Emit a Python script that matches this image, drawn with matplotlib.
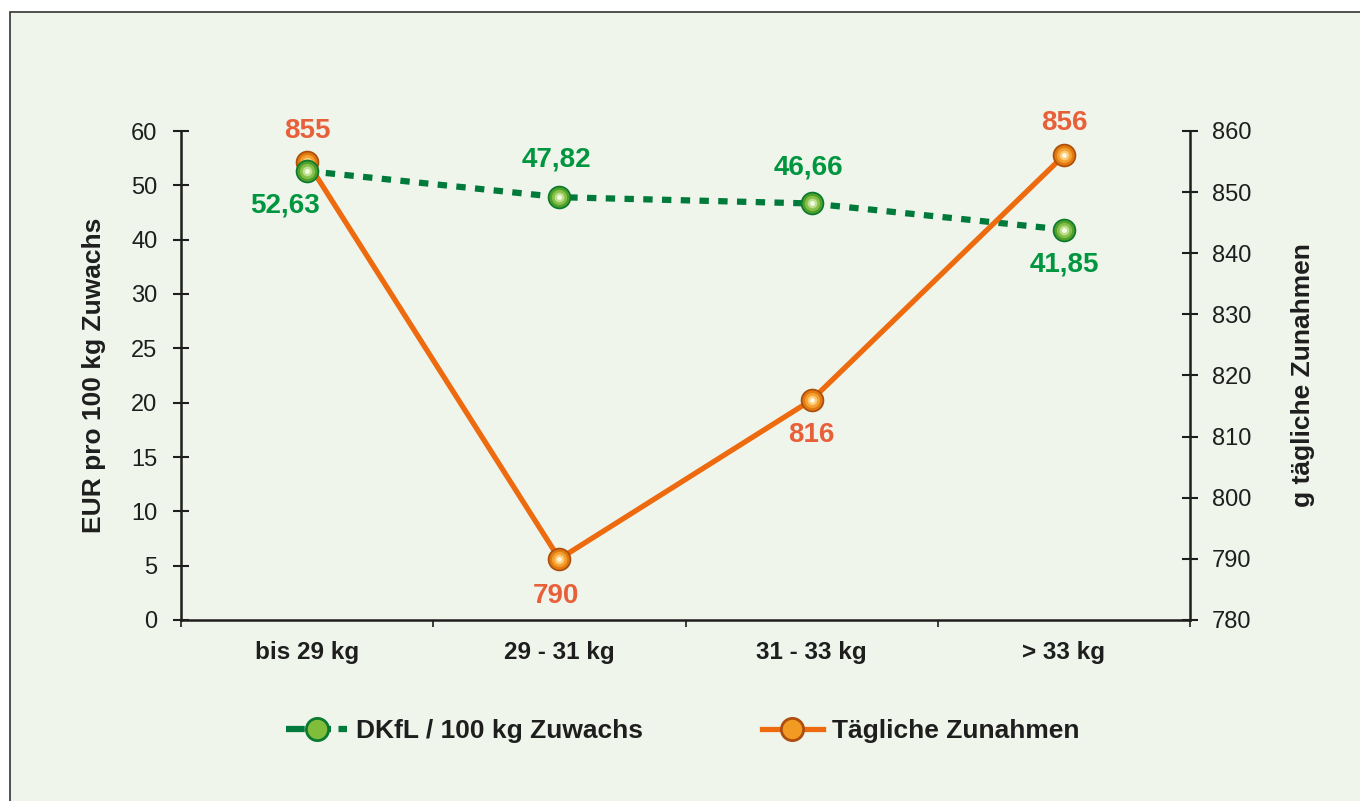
import numpy as np
import matplotlib.pyplot as plt
from matplotlib.patches import Rectangle

plt.rcParams['font.family'] = ['Liberation Sans', 'DejaVu Sans']

categories = ['bis 29 kg', '29 - 31 kg', '31 - 33 kg', '> 33 kg']
dkfl = [52.63, 47.82, 46.66, 41.85]
zunahmen = [855, 790, 816, 856]
dkfl_labels = ['52,63', '47,82', '46,66', '41,85']
left_ticks = [0, 5, 10, 15, 20, 25, 30, 40, 50, 60]
right_ticks = [780, 790, 800, 810, 820, 830, 840, 850, 860]

bg = '#eff5eb'
green_line = '#007a3a'
green_txt = '#00953f'
orange_line = '#ee6a0e'
orange_txt = '#e8603a'
dark = '#1e1e1e'

# shading rings for the ball markers: (size, colour)
green_ball = [(17, '#0b7a30'), (14.5, '#4f9f28'), (11, '#86c04a'), (7, '#bfe08e'), (3.5, '#f4fbe8')]
orange_ball = [(17, '#ad4e0c'), (14.5, '#e07a10'), (11, '#f3a030'), (7, '#fbcb78'), (3.5, '#fff6e0')]


# left axis in the original is not linear: equal steps for 0..30 by 5, then 30..60 by 10
def fwd(v):
    v = np.asarray(v, dtype=float)
    return np.where(v <= 30, v / 5.0, 6 + (v - 30) / 10.0)


def inv(u):
    u = np.asarray(u, dtype=float)
    return np.where(u <= 6, u * 5.0, 30 + (u - 6) * 10.0)


def balls(axis, xs, ys, rings):
    for ms, c in rings:
        axis.plot(xs, ys, linestyle='none', marker='o', markersize=ms,
                  markerfacecolor=c, markeredgewidth=0)


fig = plt.figure(figsize=(13.6, 8.01), dpi=100, facecolor='white')
fig.patches.append(Rectangle((10 / 1360, -0.01), 1.02, 1 - 12 / 801 + 0.01,
                             transform=fig.transFigure, facecolor=bg,
                             edgecolor='#333333', linewidth=1.2, zorder=-5))

ax = fig.add_axes([181 / 1360, 1 - 620 / 801, (1190 - 181) / 1360, (620 - 131) / 801])
ax.set_facecolor('none')
ax.set_yscale('function', functions=(fwd, inv))
ax.set_ylim(0, 60)
ax.set_yticks(left_ticks)
ax.set_yticklabels([str(t) for t in left_ticks])
ax.yaxis.set_minor_locator(plt.NullLocator())
x = np.arange(len(categories))
ax.set_xlim(-0.5, len(categories) - 0.5)
ax.set_xticks(np.arange(-0.5, len(categories), 1.0))
ax.set_xticklabels([])
ax.set_xticks(x, minor=True)
ax.set_xticklabels(categories, minor=True, fontsize=17.5, fontweight='bold', color=dark)
ax.tick_params(axis='x', which='major', direction='out', length=5, width=1.2, color=dark)
ax.tick_params(axis='x', which='minor', length=0, pad=15)
ax.tick_params(axis='y', direction='inout', length=12, width=1.5, color=dark,
               labelsize=17, labelcolor=dark, pad=11)
for s in ['top', 'right']:
    ax.spines[s].set_visible(False)
for s in ['left', 'bottom']:
    ax.spines[s].set_linewidth(1.8)
    ax.spines[s].set_color(dark)
ax.set_ylabel('EUR pro 100 kg Zuwachs', fontsize=19, fontweight='bold', color=dark, labelpad=18)

# green line drawn under the orange one
ax.plot(x, dkfl, color=green_line, lw=4.5, linestyle=(0, (1.5, 1.5)), zorder=2)

ax2 = ax.twinx()
ax2.set_ylim(780, 860)
ax2.set_yticks(right_ticks)
ax2.tick_params(axis='y', direction='inout', length=12, width=1.5, color=dark,
                labelsize=17, labelcolor=dark, pad=10)
for s in ['top', 'left', 'bottom']:
    ax2.spines[s].set_visible(False)
ax2.spines['right'].set_linewidth(1.8)
ax2.spines['right'].set_color(dark)
ax2.set_ylabel('g tägliche Zunahmen', fontsize=19, fontweight='bold', color=dark,
               rotation=90, labelpad=28)
ax2.plot(x, zunahmen, color=orange_line, lw=3.8)
balls(ax2, x, zunahmen, orange_ball)
orange_off = [(0, 31), (-3, -37), (0, -35), (0, 32)]
for xi, v, off in zip(x, zunahmen, orange_off):
    ax2.annotate(str(v), (xi, v), xytext=off, textcoords='offset pixels',
                 ha='center', va='center', fontsize=20, fontweight='bold', color=orange_txt)

# green markers and labels on top of everything
ax3 = ax.twinx()
ax3.set_yscale('function', functions=(fwd, inv))
ax3.set_ylim(0, 60)
ax3.axis('off')
balls(ax3, x, dkfl, green_ball)
green_off = [(-22, -34), (-3, 38), (-3, 36), (0, -35)]
for xi, v, lab, off in zip(x, dkfl, dkfl_labels, green_off):
    ax3.annotate(lab, (xi, v), xytext=off, textcoords='offset pixels',
                 ha='center', va='center', fontsize=20, fontweight='bold', color=green_txt)

h1, = ax.plot([], [], color=green_line, lw=4.5, linestyle=(0, (3, 1.2)), marker='o',
              markersize=16, markerfacecolor='#7fbd3a', markeredgecolor='#0b7a30', markeredgewidth=2)
h2, = ax.plot([], [], color=orange_line, lw=3.8, marker='o', markersize=16,
              markerfacecolor='#f29a22', markeredgecolor='#ad4e0c', markeredgewidth=2)
leg = fig.legend([h1, h2], ['DKfL / 100 kg Zuwachs', 'Tägliche Zunahmen'],
                 loc='center', bbox_to_anchor=(0.502, 1 - 731 / 801), ncol=2,
                 frameon=False, handlelength=2.3, columnspacing=4.5, handletextpad=0.35,
                 prop={'size': 19, 'weight': 'bold'})
for t in leg.get_texts():
    t.set_color(dark)

fig.savefig('out.png', dpi=100, facecolor=fig.get_facecolor())
